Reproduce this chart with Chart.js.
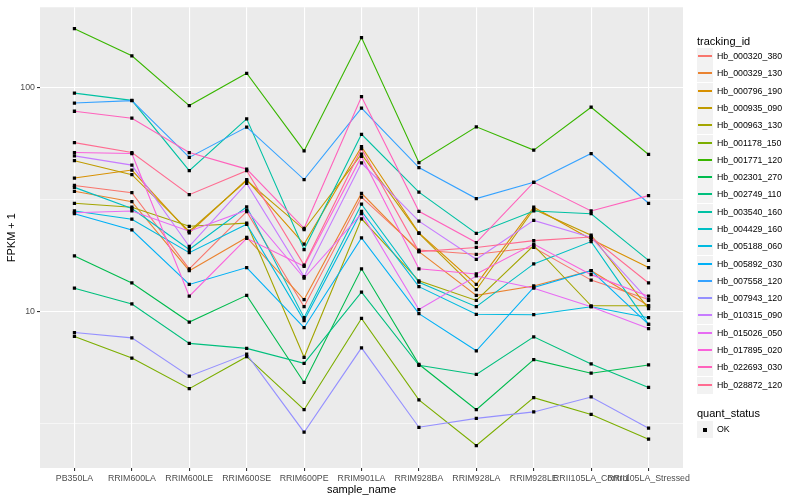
<!DOCTYPE html>
<html>
<head>
<meta charset="utf-8">
<script src="https://cdn.jsdelivr.net/npm/chart.js@4.4.0/dist/chart.umd.min.js"></script>
<style>
body { margin: 0; background: #fff; font-family: "Liberation Sans", Arial, sans-serif; }
#wrap { position: relative; width: 800px; height: 500px; }
#legend { position: absolute; left: 0; top: 0; width: 800px; height: 500px; pointer-events: none; }
.ltitle { position: absolute; left: 697px; font-size: 11px; color: #000; line-height: 14px; }
.litem { position: absolute; left: 697px; height: 17px; width: 100px; }
.lkey { position: absolute; left: 0; top: 0; width: 16px; height: 17px; background: #F2F2F2; }
.lline { position: absolute; left: 1px; top: 7px; width: 14px; height: 2px; }
.ldot { position: absolute; left: 6px; top: 7px; width: 4px; height: 4px; background: #000; }
.ltext { position: absolute; left: 20px; top: 2px; font-size: 8.8px; color: #000; line-height: 13px; white-space: nowrap; }
</style>
</head>
<body>
<div id="wrap">
<canvas id="myChart" width="800" height="500"></canvas>
<div id="legend"></div>
</div>
<script>
// categories
const samples = ['PB350LA', 'RRIM600LA', 'RRIM600LE', 'RRIM600SE', 'RRIM600PE', 'RRIM901LA',
    'RRIM928BA', 'RRIM928LA', 'RRIM928LE', 'RRII105LA_Control', 'RRII105LA_Stressed'];

const trackingIds = ['Hb_000320_380', 'Hb_000329_130', 'Hb_000796_190', 'Hb_000935_090', 'Hb_000963_130',
    'Hb_001178_150', 'Hb_001771_120', 'Hb_002301_270', 'Hb_002749_110', 'Hb_003540_160',
    'Hb_004429_160', 'Hb_005188_060', 'Hb_005892_030', 'Hb_007558_120', 'Hb_007943_120',
    'Hb_010315_090', 'Hb_015026_050', 'Hb_017895_020', 'Hb_022693_030', 'Hb_028872_120'];

const colours = ['#F8766D', '#EA8331', '#D89000', '#C09B00', '#A3A500', '#7CAE00', '#39B600', '#00BB4E',
    '#00BF7D', '#00C1A3', '#00BFC4', '#00BAE0', '#00B0F6', '#35A2FF', '#9590FF', '#C77CFF',
    '#E76BF3', '#FA62DB', '#FF62BC', '#FF6C91'];

// FPKM + 1 per sample
const hb_000320_380 = [36.5, 33.9, 15.5, 27.9, 10.5, 32.4, 18.8, 18.0, 19.3, 13.8, 11.3];
const hb_000329_130 = [34.4, 30.9, 15.2, 21.4, 11.3, 33.7, 18.5, 11.8, 13.0, 15.2, 10.6];
const hb_000796_190 = [39.4, 42.8, 22.4, 38.8, 20.0, 54.4, 22.4, 13.2, 29.2, 21.0, 15.7];
const hb_000935_090 = [47.1, 40.8, 22.8, 38.4, 23.2, 50.4, 22.3, 12.5, 28.6, 21.9, 10.3];
const hb_000963_130 = [30.4, 29.2, 24.0, 24.8, 6.24, 25.9, 13.7, 11.2, 19.7, 10.6, 10.6];
const hb_001178_150 = [7.73, 6.19, 4.52, 6.28, 3.64, 9.31, 4.03, 2.52, 4.12, 3.47, 2.69];
const hb_001771_120 = [183, 138.5, 83, 115.7, 52.1, 167, 46.2, 66.7, 52.5, 81.6, 50.2];
const hb_002301_270 = [17.7, 13.4, 8.97, 11.8, 4.82, 15.5, 5.81, 3.64, 6.09, 5.30, 5.77];
const hb_002749_110 = [12.7, 10.8, 7.20, 6.84, 5.87, 12.2, 5.75, 5.23, 7.70, 5.83, 4.58];
const hb_003540_160 = [94.3, 87.6, 42.5, 72.4, 18.9, 61.8, 34.1, 22.3, 28.1, 27.3, 16.9];
const hb_004429_160 = [35.8, 28.8, 18.9, 29.3, 9.38, 30.1, 13.5, 10.5, 16.3, 20.5, 8.76];
const hb_005188_060 = [28.1, 25.8, 18.3, 24.5, 9.10, 28.0, 12.9, 9.71, 9.67, 10.5, 9.38];
const hb_005892_030 = [27.3, 23.1, 13.2, 15.7, 8.46, 21.3, 9.77, 6.67, 12.8, 15.2, 8.76];
const hb_007558_120 = [85.2, 87.3, 48.7, 66.5, 38.8, 80.8, 43.9, 31.9, 37.7, 50.7, 30.4];
const hb_007943_120 = [8.05, 7.62, 5.14, 6.45, 2.89, 6.88, 3.04, 3.33, 3.56, 4.15, 3.01];
const hb_010315_090 = [49.5, 45.0, 19.5, 37.3, 14.3, 46.0, 25.3, 17.1, 25.5, 21.4, 11.2];
const hb_015026_050 = [27.6, 28.1, 22.8, 28.3, 14.1, 27.3, 10.2, 14.4, 12.7, 10.5, 8.39];
const hb_017895_020 = [51.2, 50.7, 11.7, 21.2, 15.9, 49.2, 15.5, 14.7, 20.0, 14.6, 11.7];
const hb_022693_030 = [78.3, 72.9, 51.2, 43.2, 23.5, 90.9, 28.0, 20.3, 37.7, 28.1, 32.9];
const hb_028872_120 = [56.7, 51.2, 33.2, 42.5, 16.1, 53.3, 18.5, 19.3, 20.7, 21.5, 13.4];

const series = [hb_000320_380, hb_000329_130, hb_000796_190, hb_000935_090, hb_000963_130,
    hb_001178_150, hb_001771_120, hb_002301_270, hb_002749_110, hb_003540_160,
    hb_004429_160, hb_005188_060, hb_005892_030, hb_007558_120, hb_007943_120,
    hb_010315_090, hb_015026_050, hb_017895_020, hb_022693_030, hb_028872_120];

const yTicks = [3.162, 10, 31.62, 100];

// one line per tracking id, points on top in a separate dataset
var datasets = [];
var allPoints = [];
for (var i = 0; i < series.length; i++) {
    var pts = [];
    for (var j = 0; j < samples.length; j++) {
        pts.push({ x: j, y: series[i][j] });
        allPoints.push({ x: j, y: series[i][j] });
    }
    datasets.push({
        label: trackingIds[i],
        data: pts,
        borderColor: colours[i],
        borderWidth: 1.1,
        pointRadius: 0,
        tension: 0,
        order: 20 - i
    });
}
datasets.push({
    label: 'OK',
    data: allPoints,
    showLine: false,
    pointStyle: 'rect',
    pointRadius: 2.3,
    pointBackgroundColor: '#000',
    pointBorderWidth: 0,
    order: 0
});

const panelBg = {
    id: 'panelBg',
    beforeDraw: function (chart) {
        var a = chart.chartArea;
        chart.ctx.save();
        chart.ctx.fillStyle = '#EBEBEB';
        chart.ctx.fillRect(a.left, a.top, a.right - a.left, a.bottom - a.top);
        chart.ctx.restore();
    }
};

const ctx = document.getElementById('myChart');
const myChart = new Chart(ctx, {
    type: 'line',
    data: { datasets: datasets },
    options: {
        responsive: false,
        animation: false,
        layout: { padding: { left: 0, right: 117, top: 5, bottom: 0 } },
        plugins: { legend: { display: false }, tooltip: { enabled: false } },
        scales: {
            x: {
                type: 'linear',
                min: -0.6,
                max: 10.6,
                afterBuildTicks: function (s) {
                    s.ticks = samples.map(function (_, k) { return { value: k }; });
                },
                afterFit: function (s) { s.height = 32; },
                ticks: {
                    autoSkip: false, maxRotation: 0, minRotation: 0,
                    color: '#4D4D4D', padding: 2,
                    font: { family: 'Liberation Sans', size: 8.8 },
                    callback: function (v) { return samples[v]; }
                },
                grid: { color: '#FFFFFF', lineWidth: 1.1, tickColor: '#333333', tickLength: 3 },
                border: { display: false },
                title: {
                    display: true, text: 'sample_name', color: '#000',
                    font: { family: 'Liberation Sans', size: 11 }, padding: { top: 1, bottom: 3 }
                }
            },
            y: {
                type: 'logarithmic',
                min: 2.0,
                max: 228,
                afterBuildTicks: function (s) {
                    s.ticks = yTicks.map(function (v) { return { value: v }; });
                },
                afterFit: function (s) { s.width = 40; },
                ticks: {
                    color: '#4D4D4D', padding: 2,
                    font: { family: 'Liberation Sans', size: 8.8 },
                    callback: function (v) { return (v === 10 || v === 100) ? String(v) : ''; }
                },
                grid: {
                    color: '#FFFFFF',
                    lineWidth: function (c) { return (c.tick && (c.tick.value === 10 || c.tick.value === 100)) ? 1.1 : 0.55; },
                    tickColor: function (c) { return (c.tick && (c.tick.value === 10 || c.tick.value === 100)) ? '#333333' : 'rgba(0,0,0,0)'; },
                    tickLength: 3
                },
                border: { display: false },
                title: {
                    display: true, text: 'FPKM + 1', color: '#000',
                    font: { family: 'Liberation Sans', size: 11 }, padding: { top: 5, bottom: 2 }
                }
            }
        }
    },
    plugins: [panelBg]
});

// legend (ggplot style)
var leg = document.getElementById('legend');
function addTitle(text, cy) {
    var t = document.createElement('div');
    t.className = 'ltitle';
    t.style.top = Math.round(cy - 7) + 'px';
    t.textContent = text;
    leg.appendChild(t);
}
function addItem(text, cy, colour) {
    var it = document.createElement('div');
    it.className = 'litem';
    it.style.top = Math.round(cy - 8.5) + 'px';
    var key = document.createElement('div');
    key.className = 'lkey';
    var mark = document.createElement('div');
    if (colour) { mark.className = 'lline'; mark.style.backgroundColor = colour; }
    else { mark.className = 'ldot'; }
    key.appendChild(mark);
    it.appendChild(key);
    var tx = document.createElement('div');
    tx.className = 'ltext';
    tx.textContent = text;
    it.appendChild(tx);
    leg.appendChild(it);
}
addTitle('tracking_id', 40.7);
for (var k = 0; k < trackingIds.length; k++) {
    addItem(trackingIds[k], 56.7 + k * 17.28, colours[k]);
}
addTitle('quant_status', 412.7);
addItem('OK', 429, null);
</script>
</body>
</html>
